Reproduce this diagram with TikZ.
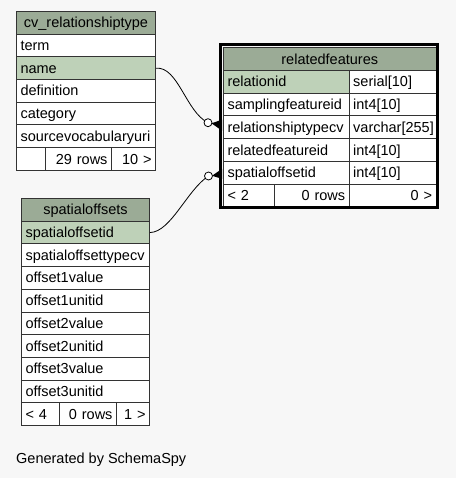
\documentclass[tikz,border=0pt]{standalone}
\usepackage{fontspec}
\setmainfont{Liberation Sans}
\definecolor{hdrgreen}{HTML}{9BAB96}
\definecolor{keygreen}{HTML}{BED1B8}
\definecolor{pagegray}{HTML}{F7F7F7}
\newcommand{\tblfont}{\fontsize{14.5}{17}\selectfont}

\begin{document}
\begin{tikzpicture}[x=1pt,y=-1pt,
        cell/.style={draw=black!80, line width=1pt, fill=white, anchor=north west, minimum height=22.7pt,
            inner xsep=4pt, inner ysep=0pt, text height=12pt, text depth=2pt, font=\tblfont, align=left},
        head/.style={cell, fill=hdrgreen, align=center},
        foot/.style={cell, align=right},
        link/.style={draw=black, line width=0.8pt}]
        \fill[pagegray] (0,0) rectangle (456,478);
        \useasboundingbox (0,0) rectangle (456,478);
        % cv_relationshiptype
        \node[head, text width=131pt] (cv-head) at (16,11) {cv\_relationshiptype};
        \foreach \i/\nm/\lbl/\fc in {1/term/term/white, 2/name/name/keygreen, 3/def/definition/white,
                4/cat/category/white, 5/uri/sourcevocabularyuri/white} {
            \node[cell, fill=\fc, text width=131pt] (cv-\nm) at (16,{11+22.7*\i}) {\lbl};
        }
        \node[cell, text width=21pt] (cv-f1) at (16,147.2) {};
        \node[foot, text width=58pt] (cv-f2) at (45,147.2) {29 rows};
        \node[foot, text width=36pt] (cv-f3) at (111,147.2) {10 >};
        % relatedfeatures
        \node[head, text width=204.5pt] (rf-head) at (223,47.5) {relatedfeatures};
        \foreach \i/\nm/\lbl/\tp/\fc in {1/rid/relationid/serial[10]/keygreen, 2/sfid/samplingfeatureid/int4[10]/white,
                3/rtcv/relationshiptypecv/varchar[255]/white, 4/rfid/relatedfeatureid/int4[10]/white,
                5/soid/spatialoffsetid/int4[10]/white} {
            \node[cell, fill=\fc, text width=117.7pt] (rf-\nm) at (223,{70.1+22.7*(\i-1)}) {\lbl};
            \node[cell, text width=78.8pt] (rf-\nm-type) at (348.7,{70.1+22.7*(\i-1)}) {\tp};
        }
        \node[cell, text width=43pt] (rf-f1) at (223,183.6) {< 2};
        \node[foot, text width=66.7pt] (rf-f2) at (274,183.6) {0 rows};
        \node[foot, text width=78.8pt] (rf-f3) at (348.7,183.6) {0 >};
        \draw[line width=3pt] (220.8,44.8) rectangle (437,207.8);
        % spatialoffsets
        \node[head, text width=120pt] (so-head) at (21,198) {spatialoffsets};
        \foreach \i/\nm/\lbl/\fc in {1/id/spatialoffsetid/keygreen, 2/type/spatialoffsettypecv/white,
                3/v1/offset1value/white, 4/u1/offset1unitid/white, 5/v2/offset2value/white,
                6/u2/offset2unitid/white, 7/v3/offset3value/white, 8/u3/offset3unitid/white} {
            \node[cell, fill=\fc, text width=120pt] (so-\nm) at (21,{220.7+22.7*(\i-1)}) {\lbl};
        }
        \node[cell, text width=30.3pt] (so-f1) at (21,402.3) {< 4};
        \node[foot, text width=48.7pt] (so-f2) at (59.3,402.3) {0 rows};
        \node[foot, text width=25pt] (so-f3) at (116,402.3) {1 >};
        % links
        \coordinate (dot1) at (208,122.7);
        \coordinate (dot2) at (208.5,176);
        \draw[link] (cv-name.east) .. controls (178,66) and (186,112) .. (dot1);
        \draw[link] (so-id.east) .. controls (171,232) and (187,190) .. (dot2);
        \fill (dot1) ++(3.5,0.6) -- ++(10.5,-3.6) -- ++(0,11) -- cycle;
        \fill (dot2) ++(3.5,-0.2) -- ++(10,-7) -- ++(0,10) -- cycle;
        \draw[link, fill=white] (dot1) circle (4pt);
        \draw[link, fill=white] (dot2) circle (4pt);
        \node[anchor=west, inner sep=0pt, font=\tblfont] (credit) at (16,460) {Generated by SchemaSpy};
    \end{tikzpicture}
\end{document}
